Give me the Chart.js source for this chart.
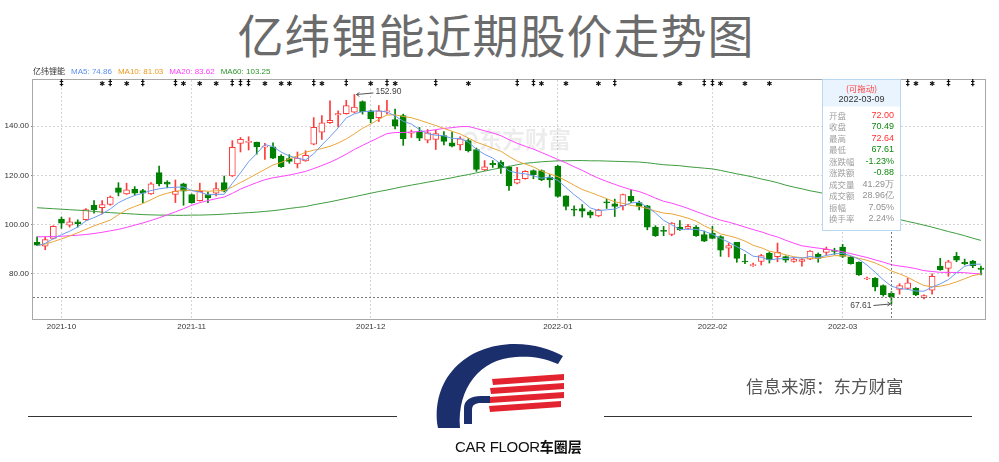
<!DOCTYPE html>
<html><head><meta charset="utf-8">
<script src="https://cdn.jsdelivr.net/npm/chart.js@4.4.1/dist/chart.umd.min.js"></script>
<style>
html,body{margin:0;padding:0;background:#fff;}
#wrap{position:relative;width:999px;height:462px;overflow:hidden;background:#fff;font-family:"Liberation Sans",Arial,sans-serif;}
#title{position:absolute;left:0;top:9px;width:992px;text-align:center;font-family:"Noto Sans CJK SC";font-size:46px;line-height:48px;color:#6b6b6b;letter-spacing:1px;white-space:nowrap;}
canvas{position:absolute;left:0;top:0;}
#legend{position:absolute;left:33px;top:65px;font-size:8px;line-height:11px;white-space:nowrap;}
#legend span{margin-right:6px;}
#src{position:absolute;left:746px;top:374px;font-family:"Noto Sans CJK SC";font-size:17.5px;line-height:24px;color:#555;white-space:nowrap;}
.hr{position:absolute;top:416px;height:1px;background:#333;}
#brand{position:absolute;left:455px;top:437px;font-size:15px;line-height:18px;color:#111;white-space:nowrap;letter-spacing:-0.3px;}
#brand b{font-family:"Noto Sans CJK SC";font-size:14px;letter-spacing:0;}
</style></head>
<body><div id="wrap">
<div id="title">亿纬锂能近期股价走势图</div>
<canvas id="c" width="999" height="462"></canvas>
<div id="legend"></div>
<div id="src">信息来源：东方财富</div>
<div class="hr" style="left:28px;width:369px"></div>
<div class="hr" style="left:604px;width:368px"></div>
<svg style="position:absolute;left:430px;top:340px" width="140" height="95" viewBox="0 0 140 95">
  <path d="M8,88 C0,40 35,4 85,4 C105,4 120,9 133,16 L128,24 C112,17 98,16 86,17 C50,19 27,48 30,88 Z" fill="#1c2f6d"/>
  <path d="M62,39 L134,34 L134,40 L63,45 Z" fill="#e3232f"/>
  <path d="M60,48 L134,43 L134,49 L61,54 Z" fill="#e3232f"/>
  <path d="M59,57 L134,52 L134,58 L60,63 Z" fill="#e3232f"/>
  <path d="M59,66 L131,61 L131,67 L60,72 Z" fill="#e3232f"/>
  <path d="M34,84 L34,68 C34,60 41,56 51,56 L60,56 L60,63 L51,63 C45,63 42,65 42,70 L42,84 Z" fill="#1c2f6d"/>
</svg>
<div id="brand">CAR FLOOR<b>车圈层</b></div>
</div>
<script>
// ---------- data ----------
const stockName = '亿纬锂能';
const dates = [
'2021-09-28','2021-09-29','2021-09-30',
'2021-10-08','2021-10-11','2021-10-12','2021-10-13','2021-10-14','2021-10-15','2021-10-18','2021-10-19','2021-10-20','2021-10-21','2021-10-22','2021-10-25','2021-10-26','2021-10-27','2021-10-28','2021-10-29',
'2021-11-01','2021-11-02','2021-11-03','2021-11-04','2021-11-05','2021-11-08','2021-11-09','2021-11-10','2021-11-11','2021-11-12','2021-11-15','2021-11-16','2021-11-17','2021-11-18','2021-11-19','2021-11-22','2021-11-23','2021-11-24','2021-11-25','2021-11-26','2021-11-29','2021-11-30',
'2021-12-01','2021-12-02','2021-12-03','2021-12-06','2021-12-07','2021-12-08','2021-12-09','2021-12-10','2021-12-13','2021-12-14','2021-12-15','2021-12-16','2021-12-17','2021-12-20','2021-12-21','2021-12-22','2021-12-23','2021-12-24','2021-12-27','2021-12-28','2021-12-29','2021-12-30','2021-12-31',
'2022-01-04','2022-01-05','2022-01-06','2022-01-07','2022-01-10','2022-01-11','2022-01-12','2022-01-13','2022-01-14','2022-01-17','2022-01-18','2022-01-19','2022-01-20','2022-01-21','2022-01-24','2022-01-25','2022-01-26','2022-01-27','2022-01-28',
'2022-02-07','2022-02-08','2022-02-09','2022-02-10','2022-02-11','2022-02-14','2022-02-15','2022-02-16','2022-02-17','2022-02-18','2022-02-21','2022-02-22','2022-02-23','2022-02-24','2022-02-25','2022-02-28',
'2022-03-01','2022-03-02','2022-03-03','2022-03-04','2022-03-07','2022-03-08','2022-03-09','2022-03-10','2022-03-11','2022-03-14','2022-03-15','2022-03-16','2022-03-17','2022-03-18','2022-03-21','2022-03-22','2022-03-23','2022-03-24'
];
const open = [92.7,91.1,94.3,102.2,99.7,101.1,101.9,107.8,106.8,108.1,
114.9,112.4,114.3,113.8,112.4,121.1,117.2,112.2,116.5,112.2,
109.7,112.2,112.7,117.0,119.7,133.0,133.4,133.5,131.5,131.6,
127.8,126.8,124.6,125.9,132.7,137.6,141.4,144.6,145.1,145.7,
150.0,146.2,143.5,145.8,142.7,144.3,137.2,137.8,134.3,134.6,
136.2,133.2,132.4,134.1,130.5,122.2,124.9,125.4,123.5,116.8,
118.6,121.9,121.9,119.2,123.8,111.6,106.1,106.5,105.1,103.5,
109.1,108.4,107.6,111.4,108.9,107.6,98.9,97.4,95.9,98.9,
98.4,98.9,95.9,96.5,95.1,90.3,92.7,85.0,83.2,84.9,
88.3,86.9,86.9,84.9,84.9,85.9,87.8,88.6,89.3,90.8,
86.7,84.6,77.8,78.1,75.1,72.0,73.5,74.0,74.0,70.2,
73.2,83.0,82.1,87.0,84.6,85.1,82.2];
const close = [91.6,93.8,99.2,100.5,101.1,100.3,106.0,106.0,108.1,111.1,
113.0,114.1,112.7,112.7,116.5,116.5,116.4,113.5,113.5,108.9,
113.5,110.8,114.6,113.5,131.4,134.6,133.5,131.6,131.6,127.0,
123.5,125.7,127.0,128.1,139.5,141.4,142.4,145.1,148.4,147.8,
145.9,143.0,146.2,145.9,140.0,134.9,137.3,135.1,137.3,137.0,
133.8,131.9,134.9,130.0,122.4,123.5,124.3,123.0,115.7,118.4,
121.6,120.3,118.1,118.1,111.4,107.3,105.8,105.4,103.8,105.9,
108.8,107.3,112.2,109.5,107.3,98.9,95.4,97.2,100.5,97.8,
99.2,95.4,93.2,94.3,89.5,91.4,86.2,84.7,83.6,87.3,
85.7,88.6,85.4,85.9,85.7,89.2,86.2,89.9,89.0,87.0,
84.0,79.4,77.85,74.6,71.37,70.49,75.1,76.2,71.3,71.0,
78.9,81.6,84.8,85.4,84.0,83.2,81.7];
const high = [95.0,94.9,99.5,103.0,102.7,101.9,106.5,109.7,109.7,111.6,
117.0,116.8,115.4,114.3,117.0,123.8,117.8,118.1,116.8,112.4,
116.8,113.2,117.0,119.7,134.1,135.4,135.7,133.5,133.0,133.2,
128.4,128.4,129.5,130.0,143.5,144.3,150.3,146.2,150.5,152.9,
150.3,146.5,148.4,150.5,147.0,144.9,138.4,139.5,138.6,138.4,
137.8,137.6,135.7,134.9,131.1,126.0,126.0,126.0,123.8,123.2,
121.9,122.2,122.2,120.3,124.1,111.6,107.6,108.1,105.7,106.2,
110.3,110.3,112.4,114.1,109.5,107.8,99.5,99.2,100.8,101.6,
100.0,99.5,97.3,99.2,95.4,92.4,92.7,87.8,84.3,87.8,
88.8,92.4,87.2,86.5,86.0,89.4,88.4,90.8,90.3,91.9,
87.0,84.8,78.6,78.4,75.4,72.64,75.9,78.1,74.3,71.3,
79.9,86.2,85.4,88.6,85.9,85.4,83.0];
const low = [91.4,89.7,94.1,98.4,98.9,98.9,101.6,104.6,104.3,107.8,
111.6,112.2,111.9,108.9,112.2,115.7,114.9,108.9,107.8,108.6,
109.5,108.9,111.6,113.2,119.5,129.5,130.3,128.6,126.5,126.8,
123.2,124.9,123.0,125.7,132.4,134.6,141.1,139.7,144.9,145.4,
144.9,141.4,141.9,144.9,138.9,132.2,135.4,134.1,133.2,130.5,
132.4,131.6,130.3,129.5,121.6,121.9,123.2,120.8,113.8,116.5,
118.4,118.6,117.8,115.1,111.1,105.9,103.5,103.0,102.7,103.2,
106.5,103.2,105.9,108.9,105.9,97.8,95.1,95.4,95.4,97.6,
98.1,95.1,93.0,94.1,87.0,86.8,84.6,84.0,82.9,83.5,
84.3,84.8,84.6,84.6,83.0,85.7,84.6,87.6,87.8,86.5,
83.8,79.2,77.5,72.9,70.8,67.61,71.6,73.7,71.0,69.7,
71.6,81.3,78.9,84.8,83.5,82.4,79.4];
const ma5 = [91.3,92.3,94.2,95.8,97.24,98.98,101.42,102.78,104.3,106.3,
108.84,110.46,111.8,112.72,113.8,114.5,114.96,115.12,115.28,113.76,
113.16,112.04,112.26,112.26,116.76,120.98,125.52,128.92,132.54,131.66,
129.44,127.88,126.96,126.26,128.76,132.34,135.68,139.3,143.36,145.02,
145.92,146.04,146.26,145.76,144.2,142.0,140.86,138.64,136.92,136.32,
136.1,135.02,134.98,133.52,130.6,128.54,127.02,124.64,121.78,120.98,
120.6,119.8,118.82,119.3,117.9,115.04,112.14,109.6,106.74,105.64,
105.94,106.24,107.6,108.74,109.02,107.04,104.66,101.66,99.86,97.96,
98.02,98.02,97.22,95.98,94.32,92.76,90.92,89.22,87.08,86.64,
85.5,85.98,86.12,86.58,86.26,86.96,86.48,87.38,88.0,88.26,
87.22,85.86,83.45,80.57,77.44,74.86,73.89,73.57,72.88,72.82,
74.5,75.8,77.52,80.34,82.94,83.8,83.82];
const ma10 = [91.4,92.0,93.0,94.1,95.3,96.6,98.0,99.4,100.6,101.77,
103.91,105.94,107.29,108.51,110.05,111.67,112.71,113.46,114.0,113.78,
113.83,113.5,113.69,113.77,115.26,117.07,118.78,120.59,122.4,124.21,
125.21,126.7,127.94,129.4,130.21,130.89,131.78,133.13,134.81,136.89,
139.13,140.86,142.78,144.56,144.61,143.96,143.45,142.45,141.34,140.26,
139.05,137.94,136.81,135.22,133.46,132.32,131.02,129.81,127.65,125.79,
124.57,123.41,121.73,120.54,119.44,117.82,115.97,114.21,113.02,111.77,
110.49,109.19,108.6,107.74,107.33,106.49,105.45,104.63,104.3,103.49,
102.53,101.34,99.44,97.92,96.14,95.39,94.47,93.22,91.53,90.48,
89.13,88.45,87.67,86.83,86.45,86.23,86.23,86.75,87.29,87.26,
87.09,86.17,85.42,84.29,82.85,81.03,79.87,78.5,76.73,75.13,
74.62,74.84,75.54,76.61,77.88,79.15,79.81];
const ma20 = [95.0,95.0,95.1,95.2,95.4,95.6,95.9,96.3,96.8,97.4,
98.0,98.8,99.7,100.6,101.6,102.7,103.9,105.1,106.4,107.78,
108.87,109.72,110.49,111.14,112.66,114.37,115.75,117.03,118.2,119.0,
119.52,120.1,120.82,121.59,122.74,123.98,125.28,126.86,128.61,130.55,
132.17,133.78,135.36,136.98,137.41,137.43,137.62,137.79,138.08,138.58,
139.09,139.4,139.8,139.89,139.04,138.14,137.24,136.13,134.5,133.03,
131.81,130.68,129.27,127.88,126.45,125.07,123.5,122.01,120.34,118.78,
117.53,116.3,115.17,114.14,113.39,112.16,110.71,109.42,108.66,107.63,
106.51,105.27,104.02,102.83,101.74,100.94,99.96,98.93,97.92,96.99,
95.83,94.9,93.56,92.38,91.3,90.81,90.35,89.99,89.41,88.87,
88.11,87.31,86.54,85.57,84.65,83.62,83.04,82.62,82.0,81.2,
80.85,80.5,80.47,80.44,80.36,80.06,79.83];
const ma60 = [106.8,106.6,106.4,106.2,106.0,105.8,105.6,105.3,105.0,104.8,
104.6,104.4,104.2,104.0,103.9,103.8,103.8,103.7,103.7,103.8,
103.8,103.9,104.0,104.2,104.4,104.6,104.8,105.0,105.3,105.6,
106.0,106.5,106.9,107.3,108.0,108.6,109.2,109.9,110.6,111.3,
112.0,112.7,113.4,114.0,114.7,115.4,116.0,116.6,117.2,117.8,
118.4,119.0,119.7,120.3,121.0,121.7,122.4,123.0,123.6,124.3,
124.9,125.2,125.5,125.7,125.9,125.9,126.0,126.0,125.9,125.9,
125.8,125.7,125.6,125.5,125.4,125.1,124.7,124.3,124.1,123.9,
123.5,123.2,122.9,122.6,122.0,121.3,120.6,120.0,119.3,118.5,
117.8,117.0,116.0,115.2,114.5,113.7,113.1,112.4,111.7,111.0,
109.8,108.5,107.2,105.9,104.6,103.25,102.0,101.2,100.5,99.7,
98.9,98.0,97.1,96.3,95.4,94.4,93.5];
const yTicks = [80, 100, 120, 140];
const maNames = ['MA5', 'MA10', 'MA20', 'MA60'];
const maColors = ['#6d9bef', '#e9a63a', '#ff45ff', '#3f9c3f'];
const legendColors = ['#5b8ef0', '#e89a1c', '#ff3cff', '#2f962f'];
const markerIdx = [3,8,9,11,13,17,18,20,22,24,25,26,28,30,31,34,35,38,41,43,44,49,53,59,61,62,65,69,71,79,82,83,84,87,90,107,108,110,112,115];
const markerSym = ['‡','✱','‡','✱','‡','‡','✱','✱','✱','‡','‡','‡','✱','✱','✱','‡','✱','‡','✱','‡','✱','‡','✱','‡','‡','✱','✱','✱','‡','✱','‡','‡','✱','✱','✱','‡','✱','✱','‡','‡'];
const hoverDate = '2022-03-09';
const tipHeader = '(可拖动)';
const tipLabels = ['开盘','收盘','最高','最低','涨跌幅','涨跌额','成交量','成交额','振幅','换手率'];
const tipExtra = ['-1.23%','-0.88','41.29万','28.96亿','7.05%','2.24%'];
const watermark = '东方财富';

// ---------- build ----------
const hi = dates.indexOf(hoverDate);
const maSeries = [ma5, ma10, ma20, ma60];
const RED = '#ff3b3b', GREEN = '#008000';
const isUp = close.map((c, i) => c >= open[i]);
const monthIdx = dates.map((d, i) => (i > 0 && d.slice(0, 7) !== dates[i - 1].slice(0, 7)) ? i : -1).filter(i => i >= 0);

// legend text
const lg = document.getElementById('legend');
let lh = '<span style="color:#333;font-family:\'Noto Sans CJK SC\'">' + stockName + '</span>';
maNames.forEach((n, k) => { lh += '<span style="color:' + legendColors[k] + '">' + n + ': ' + maSeries[k][hi].toFixed(2) + '</span>'; });
lg.innerHTML = lh;

Chart.defaults.font.family = '"Liberation Sans", Arial, sans-serif';

const decor = {
  id: 'decor',
  beforeDatasetsDraw(chart) {
    const ctx = chart.ctx;
    ctx.save();
    ctx.fillStyle = 'rgba(0,0,0,0.075)';
    ctx.strokeStyle = 'rgba(0,0,0,0.075)';
    ctx.lineWidth = 3;
    ctx.beginPath(); ctx.arc(470, 139, 6, Math.PI * 0.9, Math.PI * 2.3); ctx.stroke();
    ctx.font = 'bold 23px "Noto Sans CJK SC"';
    ctx.textAlign = 'left'; ctx.textBaseline = 'middle';
    ctx.fillText(watermark, 479, 139);
    ctx.restore();
  },
  afterDatasetsDraw(chart) {
    const {ctx, chartArea: a, scales: {x, y}} = chart;
    ctx.save();
    // frame
    ctx.setLineDash([]);
    ctx.strokeStyle = '#a8a8a8'; ctx.lineWidth = 1;
    ctx.strokeRect(a.left - 0.5, a.top - 0.5, a.right - a.left + 1, a.bottom - a.top + 1);
    // event markers
    ctx.fillStyle = '#111';
    ctx.textAlign = 'center'; ctx.textBaseline = 'middle';
    markerIdx.forEach((m, k) => {
      ctx.font = markerSym[k] === '✱' ? '7px "DejaVu Sans"' : 'bold 8px "DejaVu Sans"';
      ctx.fillText(markerSym[k], x.getPixelForValue(m), a.top + 4);
    });
    // crosshair
    const cx = Math.round(x.getPixelForValue(hi)) + 0.5;
    const cy = Math.round(y.getPixelForValue(close[hi])) + 0.5;
    ctx.strokeStyle = '#7a7a7a'; ctx.setLineDash([2, 2]);
    ctx.beginPath(); ctx.moveTo(cx, a.top); ctx.lineTo(cx, a.bottom); ctx.stroke();
    ctx.beginPath(); ctx.moveTo(a.left, cy); ctx.lineTo(a.right, cy); ctx.stroke();
    ctx.setLineDash([]);
    // max / min annotations
    let mx = 0, mn = 0;
    high.forEach((v, i) => { if (v > high[mx]) mx = i; });
    low.forEach((v, i) => { if (v < low[mn]) mn = i; });
    ctx.strokeStyle = '#555'; ctx.fillStyle = '#444';
    ctx.font = '8.5px "Liberation Sans"';
    const x0 = x.getPixelForValue(mx), y0 = y.getPixelForValue(high[mx]);
    ctx.beginPath(); ctx.moveTo(x0 + 2, y0); ctx.lineTo(x0 + 19, y0 - 1.5);
    ctx.moveTo(x0 + 2, y0); ctx.lineTo(x0 + 5, y0 - 2); ctx.moveTo(x0 + 2, y0); ctx.lineTo(x0 + 5, y0 + 2); ctx.stroke();
    ctx.textAlign = 'left'; ctx.fillText(high[mx].toFixed(2), x0 + 21, y0 - 2.5);
    const x1 = x.getPixelForValue(mn), y1 = y.getPixelForValue(low[mn]);
    ctx.beginPath(); ctx.moveTo(x1 - 18, y1 + 1.5); ctx.lineTo(x1 - 1, y1);
    ctx.moveTo(x1 - 1, y1); ctx.lineTo(x1 - 4, y1 - 2); ctx.moveTo(x1 - 1, y1); ctx.lineTo(x1 - 4, y1 + 2); ctx.stroke();
    ctx.textAlign = 'right'; ctx.fillText(low[mn].toFixed(2), x1 - 20, y1 + 1.5);
    ctx.restore();
  },
  afterDraw(chart) {
    const ctx = chart.ctx;
    const bx = 822.5, by = 79.5, bw = 78, bh = 151;
    ctx.save();
    ctx.fillStyle = '#fff'; ctx.fillRect(bx, by, bw, bh);
    ctx.fillStyle = '#eaf4fe'; ctx.fillRect(bx, by, bw, 27);
    ctx.strokeStyle = '#b9d8f4'; ctx.lineWidth = 1; ctx.strokeRect(bx, by, bw, bh);
    ctx.textBaseline = 'middle'; ctx.textAlign = 'center';
    ctx.fillStyle = '#ff4040'; ctx.font = '8.5px "Noto Sans CJK SC"';
    ctx.fillText(tipHeader, bx + bw / 2, 89);
    ctx.fillStyle = '#333'; ctx.font = '9px "Liberation Sans"';
    ctx.fillText(dates[hi], bx + bw / 2, 99.5);
    const prev = close[hi - 1];
    const vals = [open[hi].toFixed(2), close[hi].toFixed(2), high[hi].toFixed(2), low[hi].toFixed(2)].concat(tipExtra);
    const col = v => v > prev ? '#ff3030' : (v < prev ? '#118811' : '#888');
    const cols = [col(open[hi]), col(close[hi]), col(high[hi]), col(low[hi]), '#118811', '#118811', '#909090', '#909090', '#909090', '#909090'];
    tipLabels.forEach((l, k) => {
      const yy = 115.5 + k * 11.5;
      ctx.textAlign = 'left'; ctx.fillStyle = '#a0a0a0'; ctx.font = '8.5px "Noto Sans CJK SC"';
      ctx.fillText(l, 829, yy);
      ctx.textAlign = 'right'; ctx.fillStyle = cols[k]; ctx.font = '9px "Liberation Sans"';
      ctx.fillText(vals[k], 894, yy);
    });
    ctx.restore();
  }
};

const datasets = maSeries.map((s, k) => ({
  type: 'line', label: maNames[k], data: s, borderColor: maColors[k], borderWidth: 1,
  pointRadius: 0, tension: 0, fill: false, order: 1
}));
datasets.push({
  type: 'bar', label: 'body', data: dates.map((d, i) => [open[i], close[i]]),
  backgroundColor: isUp.map(u => u ? '#ffffff' : GREEN),
  borderColor: isUp.map(u => u ? RED : GREEN),
  borderWidth: 1, borderSkipped: false, barThickness: 6, minBarLength: 1, grouped: false, order: 2
});
datasets.push({
  type: 'bar', label: 'wick', data: dates.map((d, i) => [low[i], high[i]]),
  backgroundColor: isUp.map(u => u ? RED : GREEN),
  borderWidth: 0, barThickness: 1, grouped: false, order: 3
});

new Chart(document.getElementById('c'), {
  type: 'bar',
  data: { labels: dates, datasets },
  options: {
    responsive: false, animation: false, devicePixelRatio: 1,
    layout: { padding: { top: 80, right: 14, left: 0, bottom: 123 } },
    plugins: { legend: { display: false }, tooltip: { enabled: false } },
    scales: {
      x: {
        offset: true,
        afterBuildTicks: s => { s.ticks = monthIdx.map(v => ({ value: v })); },
        afterFit: s => { s.height = 20; },
        ticks: { autoSkip: false, maxRotation: 0, minRotation: 0, padding: 3, color: '#333', font: { size: 8 },
                 callback: v => dates[v].slice(0, 7) },
        grid: { offset: false, color: '#d4d4d4', drawTicks: false },
        border: { display: false, dash: [2, 2] }
      },
      y: {
        min: 61.5, max: 158.8,
        afterBuildTicks: s => { s.ticks = yTicks.map(v => ({ value: v })); },
        afterFit: s => { s.width = 33; },
        ticks: { padding: 2, color: '#333', font: { size: 8 }, callback: v => Number(v).toFixed(2) },
        grid: { color: '#d4d4d4', tickLength: 2, tickColor: '#888', tickBorderDash: [] },
        border: { display: false, dash: [2, 2] }
      }
    }
  },
  plugins: [decor]
});
</script>
</body></html>
